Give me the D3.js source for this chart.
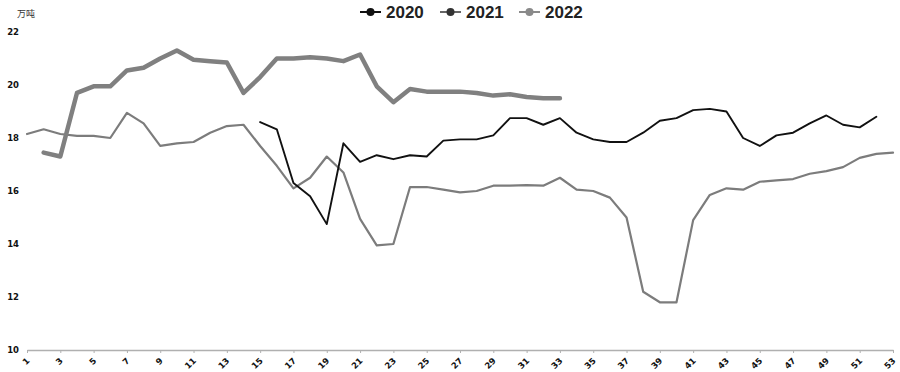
<!DOCTYPE html>
<html>
<head>
<meta charset="utf-8">
<script src="https://cdn.jsdelivr.net/npm/d3@7"></script>
<style>
  body { margin: 0; background: #fff; }
  svg { display: block; }
</style>
</head>
<body>
<div id="chart"></div>
<script>
// weekly values, 万吨 (null = no data that week)
var weeks = [1,2,3,4,5,6,7,8,9,10,11,12,13,14,15,16,17,18,19,20,21,22,23,24,25,26,27,
  28,29,30,31,32,33,34,35,36,37,38,39,40,41,42,43,44,45,46,47,48,49,50,51,52,53];

var s2020 = [null,null,null,null,null,null,null,null,null,null,null,null,null,null,
  18.6,18.33,16.3,15.8,14.75,17.8,17.1,17.35,17.2,17.35,17.3,17.9,17.95,17.95,18.1,
  18.75,18.75,18.5,18.75,18.2,17.95,17.85,17.85,18.2,18.65,18.75,19.05,19.1,19.0,
  18.0,17.7,18.1,18.2,18.55,18.85,18.5,18.4,18.8,null];

var s2021 = [18.15,18.33,18.15,18.08,18.08,18.0,18.95,18.55,17.7,17.8,17.85,18.2,18.45,
  18.5,17.7,16.95,16.1,16.5,17.3,16.7,14.95,13.95,14.0,16.15,16.15,16.05,15.95,16.0,
  16.2,16.2,16.22,16.2,16.5,16.05,16.0,15.75,15.0,12.2,11.8,11.8,14.9,15.85,16.1,
  16.05,16.35,16.4,16.45,16.65,16.75,16.9,17.25,17.4,17.45];

var s2022 = [null,17.45,17.3,19.7,19.95,19.95,20.55,20.65,21.0,21.3,20.95,20.9,20.85,
  19.7,20.3,21.0,21.0,21.05,21.0,20.9,21.15,19.95,19.35,19.85,19.75,19.75,19.75,19.7,
  19.6,19.65,19.55,19.5,19.5,null,null,null,null,null,null,null,null,null,null,null,
  null,null,null,null,null,null,null,null,null];

var seriesNames = ["2020", "2021", "2022"];
var xTicks = [1,3,5,7,9,11,13,15,17,19,21,23,25,27,29,31,33,35,37,39,41,43,45,47,49,51,53];
var yTicks = [10,12,14,16,18,20,22];
var unitLabel = "万吨";

var w = 900, h = 372;

var svg = d3.select("#chart").append("svg")
  .attr("width", w)
  .attr("height", h);

var x = d3.scaleLinear().domain([1, 53]).range([27, 893]);
var y = d3.scaleLinear().domain([10, 22]).range([350, 32]);

// y labels, no axis line
svg.append("g")
  .selectAll("text")
  .data(yTicks)
  .enter()
  .append("text")
  .attr("x", 19)
  .attr("y", function(d) { return y(d); })
  .attr("dy", "0.35em")
  .attr("text-anchor", "end")
  .attr("font-family", "DejaVu Sans")
  .attr("font-weight", "bold")
  .attr("font-size", "8.5px")
  .attr("fill", "#111")
  .text(function(d) { return d; });

svg.append("text")
  .attr("x", 17)
  .attr("y", 17)
  .attr("font-family", "Noto Sans CJK SC")
  .attr("font-size", "9px")
  .attr("fill", "#333")
  .text(unitLabel);

// x axis
var xAxis = svg.append("g")
  .attr("transform", "translate(0," + 350 + ")")
  .call(d3.axisBottom(x).tickValues(xTicks).tickSize(3).tickSizeOuter(0).tickFormat(""));
xAxis.select(".domain").attr("stroke", "#b0b0b0").attr("stroke-width", 1.5);
xAxis.selectAll(".tick line").attr("stroke", "#b0b0b0");

svg.append("g")
  .selectAll("text")
  .data(xTicks)
  .enter()
  .append("text")
  .attr("transform", function(d) { return "translate(" + (x(d) - 1) + ",357) rotate(-45)"; })
  .attr("text-anchor", "end")
  .attr("dy", "0.7em")
  .attr("font-family", "DejaVu Sans")
  .attr("font-weight", "bold")
  .attr("font-size", "8.5px")
  .attr("fill", "#111")
  .text(function(d) { return d; });

// lines
var line = d3.line()
  .defined(function(d) { return d.v !== null; })
  .x(function(d) { return x(d.w); })
  .y(function(d) { return y(d.v); });

function pairs(vals) {
  return weeks.map(function(wk, i) { return { w: wk, v: vals[i] }; });
}

var lines = [
  { data: s2021, color: "#7c7c7c", width: 2.2 },
  { data: s2020, color: "#111111", width: 1.9 },
  { data: s2022, color: "#808080", width: 4.5 }
];

lines.forEach(function(s) {
  svg.append("path")
    .datum(pairs(s.data))
    .attr("fill", "none")
    .attr("stroke", s.color)
    .attr("stroke-width", s.width)
    .attr("stroke-linejoin", "round")
    .attr("stroke-linecap", "round")
    .attr("d", line);
});

// legend
var legendX = [360, 440, 519];
var legendLine = ["#111", "#666", "#8a8a8a"];
var legendDot = ["#111", "#333", "#8a8a8a"];
var lg = svg.append("g").selectAll("g")
  .data(seriesNames)
  .enter()
  .append("g")
  .attr("transform", function(d, i) { return "translate(" + legendX[i] + ",12)"; });

lg.append("line")
  .attr("x1", 0).attr("x2", 21)
  .attr("stroke", function(d, i) { return legendLine[i]; })
  .attr("stroke-width", 2);
lg.append("circle")
  .attr("cx", 10.5).attr("r", 4)
  .attr("fill", function(d, i) { return legendDot[i]; });
lg.append("text")
  .attr("x", 26)
  .attr("dy", "0.36em")
  .attr("font-family", "Liberation Sans")
  .attr("font-weight", "bold")
  .attr("font-size", "17px")
  .attr("fill", "#222")
  .text(function(d) { return d; });
</script>
</body>
</html>
